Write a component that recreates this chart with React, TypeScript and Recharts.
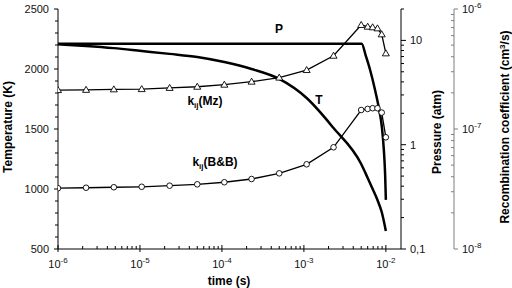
import React from "react";
import { LineChart, Line, XAxis, YAxis } from "recharts";

// time (s) at each marker
const times = [
  1e-6, 2.2e-6, 4.8e-6, 1.05e-5, 2.3e-5, 5e-5, 1.07e-4, 2.3e-4, 5e-4, 1.08e-3,
  2.3e-3, 5e-3, 6e-3, 6.9e-3, 7.9e-3, 8.9e-3, 1e-2,
];
const temperature = [
  2206, 2192, 2174, 2150, 2126, 2100, 2058, 2000, 1917, 1758, 1508, 1208, 1092,
  1000, 908, 808, 650,
];
// recombination coefficient (cm3/s)
const kMz = [
  2.11e-7, 2.12e-7, 2.14e-7, 2.15e-7, 2.2e-7, 2.25e-7, 2.34e-7, 2.48e-7,
  2.68e-7, 3.1e-7, 4.08e-7, 7.36e-7, 7.12e-7, 7.04e-7, 6.9e-7, 6.15e-7, 4.27e-7,
];
const kBB = [
  3.21e-8, 3.24e-8, 3.27e-8, 3.3e-8, 3.37e-8, 3.46e-8, 3.6e-8, 3.83e-8,
  4.27e-8, 5.08e-8, 7.04e-8, 1.44e-7, 1.47e-7, 1.49e-7, 1.49e-7, 1.37e-7,
  8.53e-8,
];
// pressure (atm)
const pTimes = [1e-6, 5.07e-3, 5.72e-3, 6.4e-3, 7.36e-3, 8.24e-3, 8.96e-3, 9.48e-3, 9.8e-3, 1e-2];
const pressure = [9.29, 9.29, 7.02, 5.26, 3.38, 2.22, 1.46, 0.857, 0.515, 0.296];

const logTicks = (lo: number, hi: number) => {
  const out: number[] = [];
  for (let e = lo; e < hi; e++)
    for (let m = 1; m < 10; m++) out.push(Number((m * Math.pow(10, e)).toPrecision(3)));
  out.push(Number(Math.pow(10, hi).toPrecision(3)));
  return out;
};
const timeTicks = logTicks(-6, -2);
const pressureTicks = [...logTicks(-1, 1), 20];
const recombTicks = logTicks(-8, -6);
const tempTicks = [500, 600, 700, 800, 900, 1000, 1100, 1200, 1300, 1400, 1500, 1600, 1700, 1800, 1900, 2000, 2100, 2200, 2300, 2400, 2500];

const rows = times.map((t, i) => ({ t, T: temperature[i], kMz: kMz[i], kBB: kBB[i] }));
const pRows = pTimes.map((t, i) => ({ t, P: pressure[i] }));

const FONT = "'Liberation Sans', Arial, sans-serif";
const isDecade = (v: number) => Math.abs(Math.log10(v) - Math.round(Math.log10(v))) < 1e-6;
const exp = (v: number) => Math.round(Math.log10(v));

function TimeTick(props: any) {
  const { x, y, payload } = props;
  const major = isDecade(payload.value);
  return (
    <g>
      <line x1={x} x2={x} y1={major ? y + 3 : y} y2={y - (major ? 4 : 3)} stroke="#000" />
      {major && (
        <text x={x} y={y + 19} textAnchor="middle" fontSize={11} fill="#111">
          10<tspan dy={-5} fontSize={8}>{exp(payload.value)}</tspan>
        </text>
      )}
    </g>
  );
}

function TopTick(props: any) {
  const { x, y, payload } = props;
  const major = isDecade(payload.value);
  return <line x1={x} x2={x} y1={y} y2={y + (major ? 4 : 3)} stroke="#000" />;
}

function TempTick(props: any) {
  const { x, y, payload } = props;
  const major = payload.value % 500 === 0;
  return (
    <g>
      <line x1={x - (major ? 4 : 3)} x2={x} y1={y} y2={y} stroke="#000" />
      {major && (
        <text x={x - 9} y={y} dy={4} textAnchor="end" fontSize={11} fill="#111">
          {payload.value}
        </text>
      )}
    </g>
  );
}

function PressTick(props: any) {
  const { x, y, payload } = props;
  const v = payload.value;
  const major = isDecade(v);
  return (
    <g>
      <line x1={x} x2={x + (major ? 5 : 3)} y1={y} y2={y} stroke="#000" />
      {major && (
        <text x={x + 9} y={y} dy={4} fontSize={11} fill="#111">
          {v < 1 ? "0,1" : String(v)}
        </text>
      )}
    </g>
  );
}

function RecombTick(props: any) {
  const { x, y, payload } = props;
  const major = isDecade(payload.value);
  return (
    <g>
      {major ? (
        <line x1={x} x2={x + 4} y1={y} y2={y} stroke="#7f7f7f" />
      ) : (
        <line x1={x - 3} x2={x} y1={y} y2={y} stroke="#7f7f7f" />
      )}
      {major && (
        <text x={x + 8} y={y} dy={4} fontSize={11} fill="#111">
          10<tspan dy={-5} fontSize={8}>{exp(payload.value)}</tspan>
        </text>
      )}
    </g>
  );
}

const TriangleDot = (p: any) => {
  const { cx, cy, index } = p;
  return (
    <polygon
      key={`tri-${index}`}
      points={`${cx},${cy - 3.5} ${cx - 3.5},${cy + 2.5} ${cx + 3.5},${cy + 2.5}`}
      fill="#fff"
      stroke="#000"
      strokeWidth={0.9}
    />
  );
};

const CircleDot = (p: any) => {
  const { cx, cy, index } = p;
  return <circle key={`cir-${index}`} cx={cx} cy={cy} r={2.8} fill="#fff" stroke="#000" strokeWidth={0.9} />;
};

const note = (left: number, top: number, rotate = false): React.CSSProperties => ({
  position: "absolute",
  left,
  top,
  transform: `translate(-50%, -50%)${rotate ? " rotate(-90deg)" : ""}`,
  whiteSpace: "nowrap",
  fontWeight: "bold",
  fontSize: 12,
  lineHeight: "12px",
  color: "#000",
});

const sub: React.CSSProperties = { fontSize: 8, verticalAlign: "-3px" };

export default function App() {
  return (
    <div style={{ position: "relative", width: 512, height: 288, overflow: "hidden", fontFamily: FONT, background: "#fff" }}>
      <style>{`body{margin:0}`}</style>
      <LineChart width={512} height={288} data={rows} margin={{ top: 9, right: 0, bottom: 0, left: 0 }}>
        <XAxis
          xAxisId="b"
          dataKey="t"
          type="number"
          scale="log"
          domain={[1e-6, 0.0153]}
          allowDataOverflow
          ticks={timeTicks}
          interval={0}
          tick={<TimeTick />}
          tickLine={false}
          tickSize={0}
          tickMargin={0}
          axisLine={{ stroke: "#000" }}
          height={39}
        />
        <XAxis
          xAxisId="top"
          orientation="top"
          dataKey="t"
          type="number"
          scale="log"
          domain={[1e-6, 0.0153]}
          allowDataOverflow
          ticks={timeTicks}
          interval={0}
          tick={<TopTick />}
          tickLine={false}
          tickSize={0}
          tickMargin={0}
          axisLine={false}
          height={0}
        />
        <YAxis
          yAxisId="left"
          type="number"
          domain={[500, 2500]}
          ticks={tempTicks}
          interval={0}
          tick={<TempTick />}
          tickLine={false}
          tickSize={0}
          tickMargin={0}
          axisLine={{ stroke: "#000" }}
          width={58}
        />
        <YAxis
          yAxisId="r1"
          orientation="right"
          type="number"
          scale="log"
          domain={[0.1, 20]}
          allowDataOverflow
          ticks={pressureTicks}
          interval={0}
          tick={<PressTick />}
          tickLine={false}
          tickSize={0}
          tickMargin={0}
          axisLine={{ stroke: "#000" }}
          width={53}
        />
        <YAxis
          yAxisId="r2"
          orientation="right"
          type="number"
          scale="log"
          domain={[1e-8, 1e-6]}
          allowDataOverflow
          ticks={recombTicks}
          interval={0}
          tick={<RecombTick />}
          tickLine={false}
          tickSize={0}
          tickMargin={0}
          axisLine={{ stroke: "#7f7f7f" }}
          width={58}
        />
        <Line xAxisId="b" yAxisId="left" dataKey="T" type="monotone" stroke="#000" strokeWidth={2.5} dot={false} isAnimationActive={false} />
        <Line xAxisId="b" yAxisId="r1" data={pRows} dataKey="P" type="monotone" stroke="#000" strokeWidth={2.5} dot={false} isAnimationActive={false} />
        <Line xAxisId="b" yAxisId="r2" dataKey="kMz" type="linear" stroke="#000" strokeWidth={1.3} dot={TriangleDot} isAnimationActive={false} />
        <Line xAxisId="b" yAxisId="r2" dataKey="kBB" type="linear" stroke="#000" strokeWidth={1.3} dot={CircleDot} isAnimationActive={false} />
      </LineChart>

      <div style={note(8, 127, true)}>Temperature (K)</div>
      <div style={note(437, 132, true)}>Pressure (atm)</div>
      <div style={note(504, 127, true)}>
        Recombination coefficient (cm<sup style={{ fontSize: 8, verticalAlign: "4px" }}>3</sup>/s)
      </div>
      <div style={note(229, 281)}>time (s)</div>
      <div style={note(279, 29)}>P</div>
      <div style={note(319, 100)}>T</div>
      <div style={note(205, 103)}>
        k<span style={sub}>ij</span>(Mz)
      </div>
      <div style={note(215, 164)}>
        k<span style={sub}>ij</span>(B&amp;B)
      </div>
    </div>
  );
}
